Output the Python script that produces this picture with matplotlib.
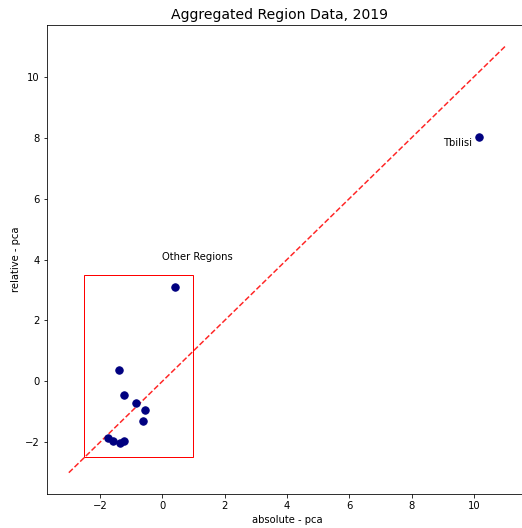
import matplotlib
matplotlib.use("Agg")
import matplotlib.pyplot as plt
from matplotlib.patches import Rectangle

# aggregated pca scores per region
regions = ["Tbilisi", "R1", "R2", "R3", "R4", "R5", "R6", "R7", "R8", "R9", "R10"]
absolute_pca = [10.17, 0.42, -1.38, -1.24, -0.84, -0.56, -0.63, -1.73, -1.59, -1.35, -1.23]
relative_pca = [8.02, 3.09, 0.38, -0.46, -0.70, -0.95, -1.31, -1.86, -1.97, -2.04, -1.97]

fig = plt.figure(figsize=(522 / 72, 528 / 72), dpi=72)
ax = fig.add_axes([47 / 522, 34 / 528, 480 / 522, 469 / 528])

ax.scatter(absolute_pca, relative_pca, color="navy", s=55, zorder=3)
ax.plot([-3, 11], [-3, 11], "r--", alpha=0.85, linewidth=1.5)

ax.add_patch(Rectangle((-2.5, -2.5), 3.5, 6, fill=False, edgecolor="red", linewidth=1, zorder=2.5))
ax.text(0, 4, "Other Regions")
ax.text(absolute_pca[0] - 1.17, relative_pca[0] - 0.3, "Tbilisi")

ax.set_xlim(-3.7, 11.7)
ax.set_ylim(-3.7, 11.7)
ax.set_xlabel("absolute - pca")
ax.set_ylabel("relative - pca")
ax.set_title("Aggregated Region Data, 2019", fontsize=14, x=0.485)

fig.savefig("out.png", dpi=72)
